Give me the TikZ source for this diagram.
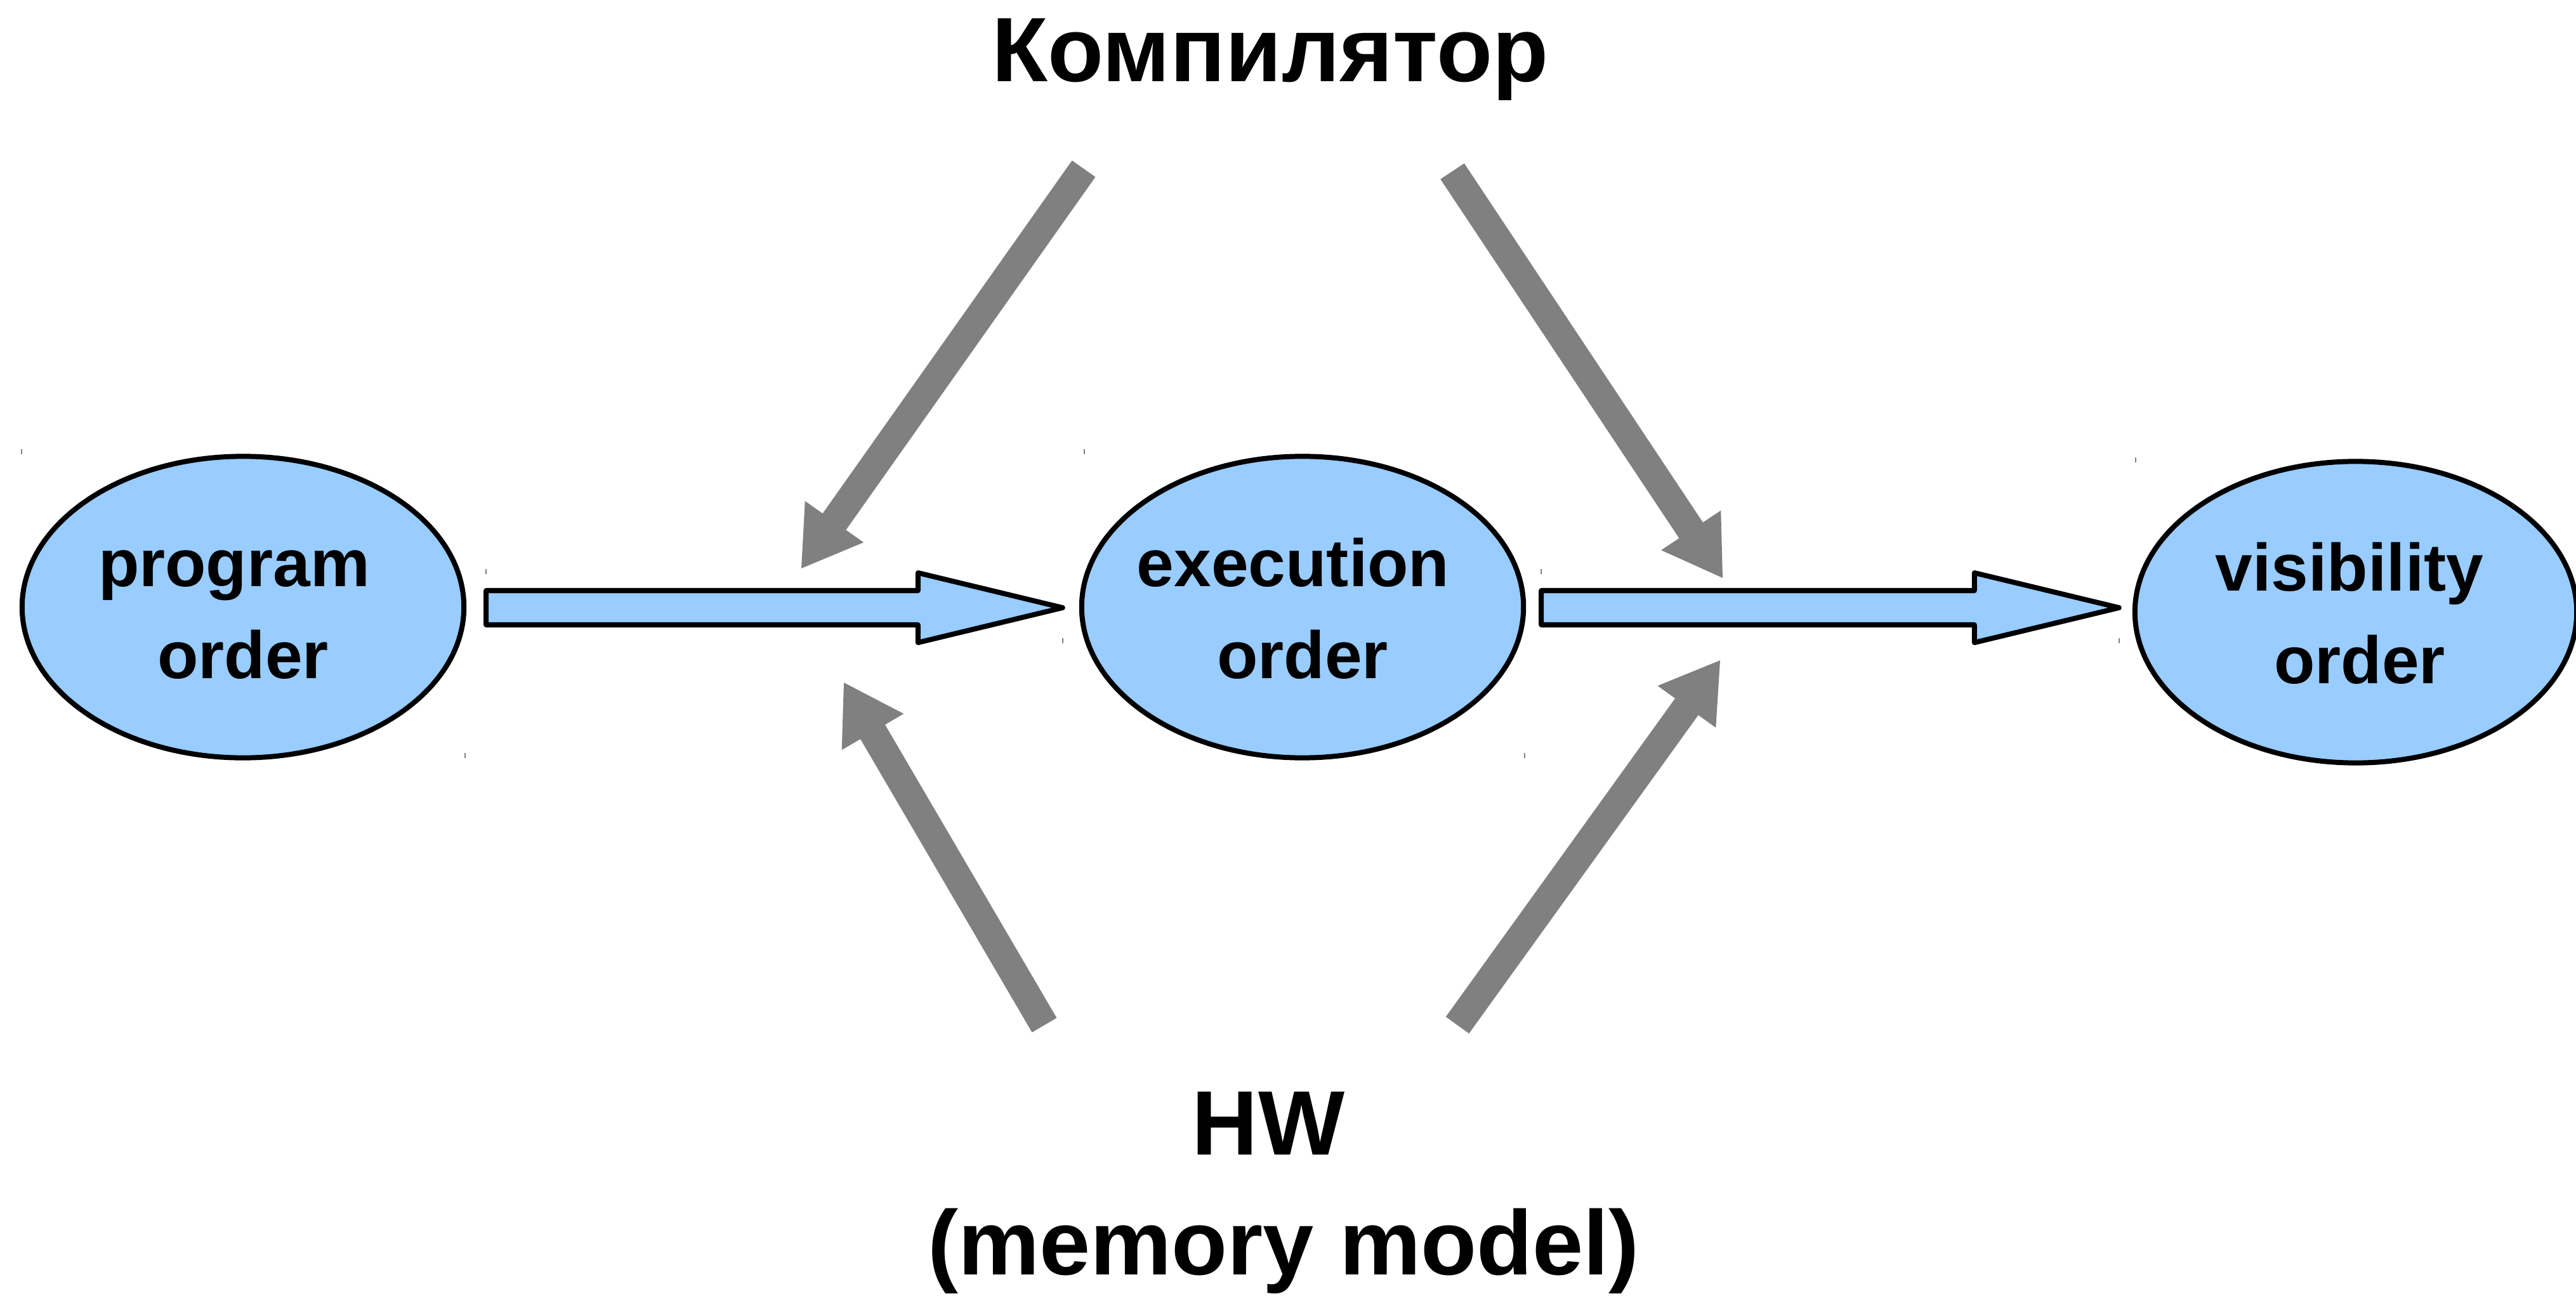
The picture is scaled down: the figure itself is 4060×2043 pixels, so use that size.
\documentclass[tikz,border=0pt]{standalone}
\usepackage{fontspec}
\setmainfont{Liberation Sans}
\usetikzlibrary{shapes.geometric,calc}

\definecolor{orderblue}{HTML}{99CCFF}
\definecolor{flowgray}{HTML}{808080}

\tikzset{
  orderset/.style={ellipse, draw=black, line width=0.08cm, fill=orderblue,
    minimum width=6.96cm, minimum height=4.75cm, inner sep=0pt},
  ordertext/.style={anchor=base, inner sep=0pt, font=\fontsize{30}{36}\selectfont\bfseries},
  bigtext/.style={anchor=base, inner sep=0pt, font=\fontsize{41}{49}\selectfont\bfseries},
  flowarrow/.style={draw=black, line width=0.08cm, line join=round, fill=orderblue},
  influence/.style={fill=flowgray},
  bboxtick/.style={draw=flowgray, line width=0.02cm},
}

% horizontal block arrow from #1 (tail) to #2 (tip)
\newcommand\blockarrow[2]{%
  \draw[flowarrow] ($(#1)+(0,-27)$) -- ($(#2)+(-228,-27)$) -- ($(#2)+(-228,-55)$)
    -- (#2) -- ($(#2)+(-228,55)$) -- ($(#2)+(-228,27)$) -- ($(#1)+(0,27)$) -- cycle;}

% thick gray arrow from #1 (tail) to #2 (tip)
\newcommand\fatarrow[2]{%
  \fill[influence] let \p1=(#1), \p2=(#2), \n1={atan2(\y2-\y1,\x2-\x1)} in
    ($(#1)+(\n1+90:0.225cm)$) --
    ($(#2)+(\n1+180:0.9cm)+(\n1+90:0.225cm)$) --
    ($(#2)+(\n1+180:0.9cm)+(\n1+90:0.565cm)$) --
    (#2) --
    ($(#2)+(\n1+180:0.9cm)+(\n1-90:0.565cm)$) --
    ($(#2)+(\n1+180:0.9cm)+(\n1-90:0.225cm)$) --
    ($(#1)+(\n1-90:0.225cm)$) -- cycle;}

\begin{document}
\begin{tikzpicture}[x=0.01cm, y=-0.01cm]
  \useasboundingbox (0,0) rectangle (4060,2043);

  % the three orders
  \node[orderset] (po) at (383,957) {};
  \node[orderset] (eo) at (2053,957) {};
  \node[orderset] (vo) at (3713,965) {};

  \node[ordertext] (po1) at ($(po)+(-14,-33)$) {program};
  \node[ordertext] (po2) at ($(po)+(0,112)$) {order};
  \node[ordertext] (eo1) at ($(eo)+(-15,-33)$) {execution};
  \node[ordertext] (eo2) at ($(eo)+(0,112)$) {order};
  \node[ordertext] (vo1) at ($(vo)+(-10,-33)$) {visibility};
  \node[ordertext] (vo2) at ($(vo)+(6,112)$) {order};

  % sources of reordering
  \node[bigtext] (comp) at (2002,129) {Компилятор};
  \node[bigtext] (hw) at (1999,1820) {HW};
  \node[bigtext] (hwmodel) at (2023,2009) {(memory model)};

  % block arrows between the orders
  \coordinate (a1s) at ($(po.east)+(31,1)$);
  \coordinate (a1e) at ($(eo.west)+(-26,1)$);
  \coordinate (a2s) at ($(eo.east)+(24,1)$);
  \coordinate (a2e) at ($(a2s -| vo.west)+(-21,0)$);
  \blockarrow{a1s}{a1e}
  \blockarrow{a2s}{a2e}

  % influence arrows
  \coordinate (cl-tail) at (1708,266);
  \coordinate (cl-tip)  at (1263,896);
  \coordinate (cr-tail) at (2289,270);
  \coordinate (cr-tip)  at (2715,911);
  \coordinate (hl-tail) at (1646,1616);
  \coordinate (hl-tip)  at (1330,1076);
  \coordinate (hr-tail) at (2297,1616);
  \coordinate (hr-tip)  at (2711,1041);
  \fatarrow{cl-tail}{cl-tip}
  \fatarrow{cr-tail}{cr-tip}
  \fatarrow{hl-tail}{hl-tip}
  \fatarrow{hr-tail}{hr-tip}

  % small corner ticks of the shape frames
  \foreach \tx/\ty in {34/712, 733/1191, 766/901, 1675/1010, 1709/712,
                       2403/1191, 2429/901, 3340/1010, 3366/725}
    \draw[bboxtick] (\tx,\ty-4) -- (\tx,\ty+4);
\end{tikzpicture}
\end{document}
